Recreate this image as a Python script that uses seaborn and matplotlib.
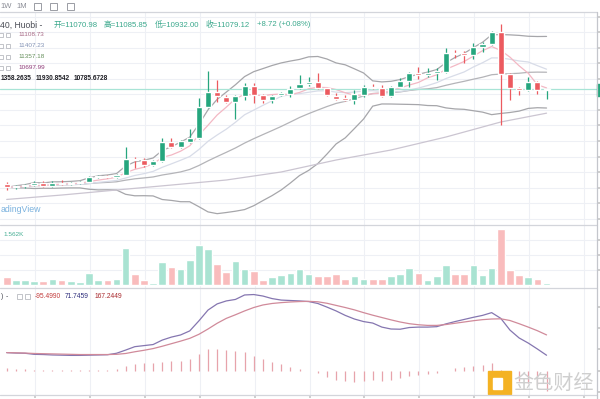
import numpy as np
import pandas as pd
import matplotlib
matplotlib.use("Agg")
import matplotlib.pyplot as plt
import seaborn as sns
from matplotlib.lines import Line2D
from matplotlib.patches import Rectangle

sns.set_theme(style="white")
plt.rcParams['font.family'] = ['Liberation Sans', 'Noto Sans CJK SC', 'DejaVu Sans']

# ---- candles (4h BTC/USDT, Huobi) ----
opens = [9558, 9504, 9521, 9537, 9578, 9530, 9578, 9563, 9574, 9595,
         9670, 9686, 9668, 9707, 9960, 9944, 9863, 9928, 10239, 10148,
         10239, 10293, 10792, 11034, 10963, 10873, 10979, 11140, 10990, 10910,
         10986, 11002, 11098, 11168, 11205, 11098, 10974, 10947, 10910, 10990,
         11124, 11098, 10974, 11124, 11216, 11349, 11317, 11340, 11366, 11671,
         11662, 11634, 11768, 11807, 12000, 11329, 11108, 11071, 11205, 11070.98]
highs = [9582, 9542, 9558, 9598, 9598, 9606, 9630, 9595, 9610, 9694,
         9705, 9700, 9720, 10148, 9992, 9976, 9945, 10293, 10298, 10265,
         10443, 10937, 11377, 11232, 10990, 10990, 11184, 11184, 11000, 10995,
         11035, 11135, 11312, 11280, 11349, 11110, 11027, 10990, 11071, 11151,
         11168, 11151, 11140, 11259, 11366, 11446, 11420, 11425, 11747, 11715,
         11704, 11832, 11849, 12021, 12133, 11340, 11120, 11285, 11215, 11085.85]
lows = [9461, 9477, 9501, 9525, 9509, 9509, 9541, 9548, 9560, 9582,
        9660, 9650, 9655, 9695, 9815, 9831, 9850, 9915, 10135, 10130,
        10225, 10280, 10780, 10883, 10860, 10599, 10910, 10857, 10857, 10862,
        10970, 10966, 11085, 11135, 11090, 10975, 10910, 10899, 10845, 10963,
        11082, 10963, 10960, 11114, 11124, 11243, 11285, 11232, 11350, 11581,
        11506, 11565, 11688, 11790, 10507, 10910, 10990, 11060, 11007, 10932.00]
closes = [9504, 9521, 9537, 9569, 9530, 9578, 9562, 9578, 9595, 9675,
          9691, 9665, 9707, 9960, 9944, 9863, 9928, 10239, 10148, 10250,
          10293, 10792, 11034, 10974, 10883, 10974, 11140, 10990, 10910, 10974,
          11018, 11087, 11168, 11205, 11098, 10990, 10931, 10910, 11002, 11114,
          11098, 10974, 11124, 11216, 11340, 11312, 11340, 11372, 11662, 11646,
          11634, 11768, 11807, 12000, 11329, 11098, 11071, 11205, 11071, 11079.12]

# volume in thousands
volume_k = [5.6, 3.3, 3.3, 2.7, 2.9, 3.8, 3.3, 2.7, 2.0, 8.3,
            3.3, 3.3, 3.8, 24.8, 7.4, 3.3, 1.6, 15.6, 11.8, 10.5,
            16.7, 26.8, 23.9, 13.8, 8.9, 15.8, 10.5, 9.6, 3.3, 5.1,
            6.7, 8.3, 10.7, 7.4, 6.0, 6.0, 7.4, 3.8, 6.0, 4.2,
            3.8, 4.2, 6.0, 7.1, 11.2, 8.3, 3.3, 6.0, 13.4, 7.4,
            7.1, 13.4, 6.7, 11.2, 37.5, 10.0, 6.7, 5.1, 3.8, 1.562]

# MACD panel
macd_line = [84, 82, 81, 76, 75, 73, 72, 71, 71, 72,
             73, 74, 81, 96, 112, 117, 122, 143, 157, 167,
             186, 233, 284, 313, 327, 334, 355, 357, 350, 338,
             331, 329, 327, 324, 315, 298, 280, 259, 242, 230,
             223, 204, 195, 194, 202, 204, 204, 206, 219, 230,
             240, 250, 259, 272, 245, 190, 153, 129, 101, 71.7459]
signal_line = [84, 83, 82, 80, 79, 78, 77, 76, 75, 75,
               75, 75, 76, 80, 88, 95, 103, 114, 126, 138,
               151, 170, 195, 222, 245, 262, 280, 296, 308, 315,
               319, 322, 324, 325, 323, 316, 306, 296, 285, 272,
               260, 249, 238, 228, 220, 215, 212, 212, 216, 222,
               228, 234, 239, 242, 243, 235, 220, 204, 187, 167.2449]
macd_hist = [12.6, 9.4, 7.9, 4.7, 3.1, 3.1, 3.1, 3.1, 3.1, 4.7,
             4.7, 4.7, 7.9, 20.4, 28.3, 33.0, 33.0, 39.3, 44.0, 44.0,
             51.8, 75.4, 98.9, 102.1, 95.8, 91.1, 86.4, 67.5, 51.8, 39.3,
             28.3, 15.7, 6.3, -3.1, -12.6, -28.3, -44.0, -50.2, -55.0, -50.2,
             -44.0, -50.2, -44.0, -34.5, -23.6, -18.8, -15.7, -12.6, -1.6, 11.0,
             15.7, 20.4, 26.7, 34.5, 3.0, -31.4, -47.1, -58.1, -65.9, -95.499]

# MA60 (needs history before the visible window)
ma60_idx = [0, 6, 12, 18, 24, 30, 36, 42, 48, 54, 59]
ma60_val = [9309, 9380, 9461, 9541, 9622, 9751, 9944, 10105, 10314, 10556, 10697.99]

df = pd.DataFrame({"open": opens, "high": highs, "low": lows, "close": closes,
                   "vol": volume_k})
df["i"] = np.arange(len(df))
df["up"] = df["close"] >= df["open"]
df["ma5"] = df["close"].rolling(5, min_periods=1).mean()
df["ma10"] = df["close"].rolling(10, min_periods=1).mean()
df["ma20"] = df["close"].rolling(20, min_periods=1).mean()
sd = df["close"].rolling(20, min_periods=1).std(ddof=0)
df["bb_up"] = df["ma20"] + 2 * sd
df["bb_lo"] = df["ma20"] - 2 * sd

UP, DOWN = "#26a67e", "#ec5a5f"
VUP, VDOWN = "#a9e3d2", "#f9bcbd"

W, H = 600, 399
fig = plt.figure(figsize=(6, 3.99), dpi=100)
fig.patch.set_facecolor("white")
fx = lambda x: x / W
fy = lambda y: 1 - y / H

step = 9.15
x0 = 6.7
xlim = (-x0 / step, (597 - x0) / step)
grid_x = np.arange(3.1, 65, 6)

ax_p = fig.add_axes([0, fy(225), 597 / W, (225 - 12) / H])
ax_v = fig.add_axes([0, fy(288), 597 / W, (288 - 225) / H])
ax_m = fig.add_axes([0, fy(395), 597 / W, (395 - 288) / H])

for ax in (ax_p, ax_v, ax_m):
    ax.set_xlim(*xlim)
    for s in ax.spines.values():
        s.set_visible(False)
    ax.set_xticks(grid_x)
    ax.grid(True, color="#eef0f5", lw=0.8)
    ax.yaxis.set_ticks_position("right")
    ax.tick_params(left=False, bottom=False, right=True, length=2,
                   color="#c8c8c8", labelleft=False, labelright=False,
                   labelbottom=False)

# ---- price panel ----
last = closes[-1]
ax_p.set_ylim(last - (225 - 89.5) * 16.1, last + (89.5 - 12) * 16.1)
ax_p.set_yticks(np.arange(9000, 12500, 250))

line_styles = [("bb_up", "#a6a6aa", 0.9), ("bb_lo", "#a6a6aa", 0.9),
               ("ma20", "#b4b4b8", 0.9), ("ma10", "#d8dce8", 0.9),
               ("ma5", "#f3b8c4", 0.9)]
for col, c, lw in line_styles:
    sns.lineplot(data=df, x="i", y=col, ax=ax_p, color=c, lw=lw, zorder=1)
sns.lineplot(x=ma60_idx, y=ma60_val, ax=ax_p, color="#cbc5d1", lw=0.9, zorder=1)

ax_p.axhline(last, color="#a8e4d6", lw=0.9, zorder=1)

col = np.where(df["up"], UP, DOWN)
ax_p.vlines(df["i"], df["low"], df["high"], colors=col, lw=0.9, zorder=2)
body_lo = np.minimum(df["open"], df["close"])
body_h = np.maximum(np.abs(df["close"] - df["open"]), 14)
ax_p.bar(df["i"], body_h, bottom=body_lo, width=0.66, color=col, zorder=3)
ax_p.set_xlabel("")
ax_p.set_ylabel("")

# ---- volume panel ----
ax_v.set_ylim(-2.0, 40.2)
ax_v.set_yticks([10, 20, 30])
ax_v.bar(df["i"], df["vol"], width=0.84,
         color=np.where(df["up"], VUP, VDOWN), zorder=2)

# ---- MACD panel ----
ax_m.set_ylim((370.5 - 395) * 4.7, (370.5 - 288) * 4.7)
ax_m.set_yticks([-100, 0, 100, 200, 300])
ax_m.grid(False, axis="y")
ax_m.vlines(df["i"], 0, macd_hist, colors="#e7a3ab", lw=0.9, zorder=2)
sns.lineplot(x=df["i"], y=macd_line, ax=ax_m, color="#8576b0", lw=0.9, zorder=3)
sns.lineplot(x=df["i"], y=signal_line, ax=ax_m, color="#d08a9a", lw=0.9, zorder=3)
ax_m.tick_params(bottom=True, length=2)
ax_m.set_xlabel("")
ax_m.set_ylabel("")

# ---- frame lines ----
sep = "#d3d5db"
for yy in (12, 225, 288, 395):
    fig.add_artist(Line2D([0, fx(597)], [fy(yy)] * 2, color=sep, lw=0.9))
fig.add_artist(Line2D([fx(597)] * 2, [fy(12), 0], color="#c4c6cc", lw=0.9))
fig.add_artist(Rectangle((fx(597), fy(96)), 3 / W, 12 / H, color=UP))

# ---- texts ----
def t(x, y, s, c, fs=5.5, **kw):
    fig.text(fx(x), fy(y), s, color=c, fontsize=fs, va="center", ha="left", **kw)

t(0.5, 6, "1W", "#8a8d96", 5.5)
t(16, 6, "1M", "#8a8d96", 5.5)
for bx in (34, 50, 67):
    fig.add_artist(Rectangle((fx(bx), fy(10)), 7 / W, 7 / H, fill=False,
                             ec="#9a9ca4", lw=0.7))

t(0.5, 25, "40, Huobi -", "#4a4c55", 6.2)
hdr = [(54, "开=11070.98"), (104, "高=11085.85"), (155, "低=10932.00"),
       (206, "收=11079.12"), (257, "+8.72 (+0.08%)")]
for hx, s in hdr:
    t(hx, 25, s, "#3aa88c", 5.6)

ma_text = [(35, "11108.73", "#a86a86"), (45.7, "11407.23", "#8393b6"),
           (56.7, "11357.18", "#66905c"), (67.7, "10697.99", "#8e3a78")]
for my, s, c in ma_text:
    fig.add_artist(Rectangle((fx(-1), fy(my + 2)), 4 / W, 4 / H, fill=False,
                             ec="#b8bac0", lw=0.6))
    fig.add_artist(Rectangle((fx(6), fy(my + 2)), 4 / W, 4 / H, fill=False,
                             ec="#b8bac0", lw=0.6))
    t(18, my, s, c, 4.6)

t(1, 78, "1358.2635", "#1e1e24", 4.7, weight="bold")
t(36, 78, "11930.8542", "#1e1e24", 4.7, weight="bold")
t(74, 78, "10785.6728", "#1e1e24", 4.7, weight="bold")
t(0.5, 210, "adingView", "#5a9fd6", 6.3, alpha=0.8)

t(3, 234, "1.562K", "#45ae93", 4.6)

t(0.5, 297, ")", "#4a4c55", 5.0)
t(6, 297, "-", "#4a4c55", 5.0)
for bx in (17, 25):
    fig.add_artist(Rectangle((fx(bx), fy(299)), 5 / W, 5 / H, fill=False,
                             ec="#b8bac0", lw=0.6))
t(35, 297, "-95.4990", "#c23b3b", 4.8)
t(65, 297, "71.7459", "#2e2e7c", 4.8)
t(95, 297, "167.2449", "#a8282c", 4.8)

# watermark
fig.add_artist(Rectangle((fx(488), fy(394)), 23 / W, 23 / H, color="#f4b223"))
fig.add_artist(Rectangle((fx(493), fy(389)), 9 / W, 11 / H, color="white"))
fig.text(fx(513), fy(383), "金色财经", fontsize=14.5, color="#cfcfcf",
         va="center", ha="left", family=["Noto Sans CJK SC", "DejaVu Sans"])

fig.savefig("out.png", dpi=100)
